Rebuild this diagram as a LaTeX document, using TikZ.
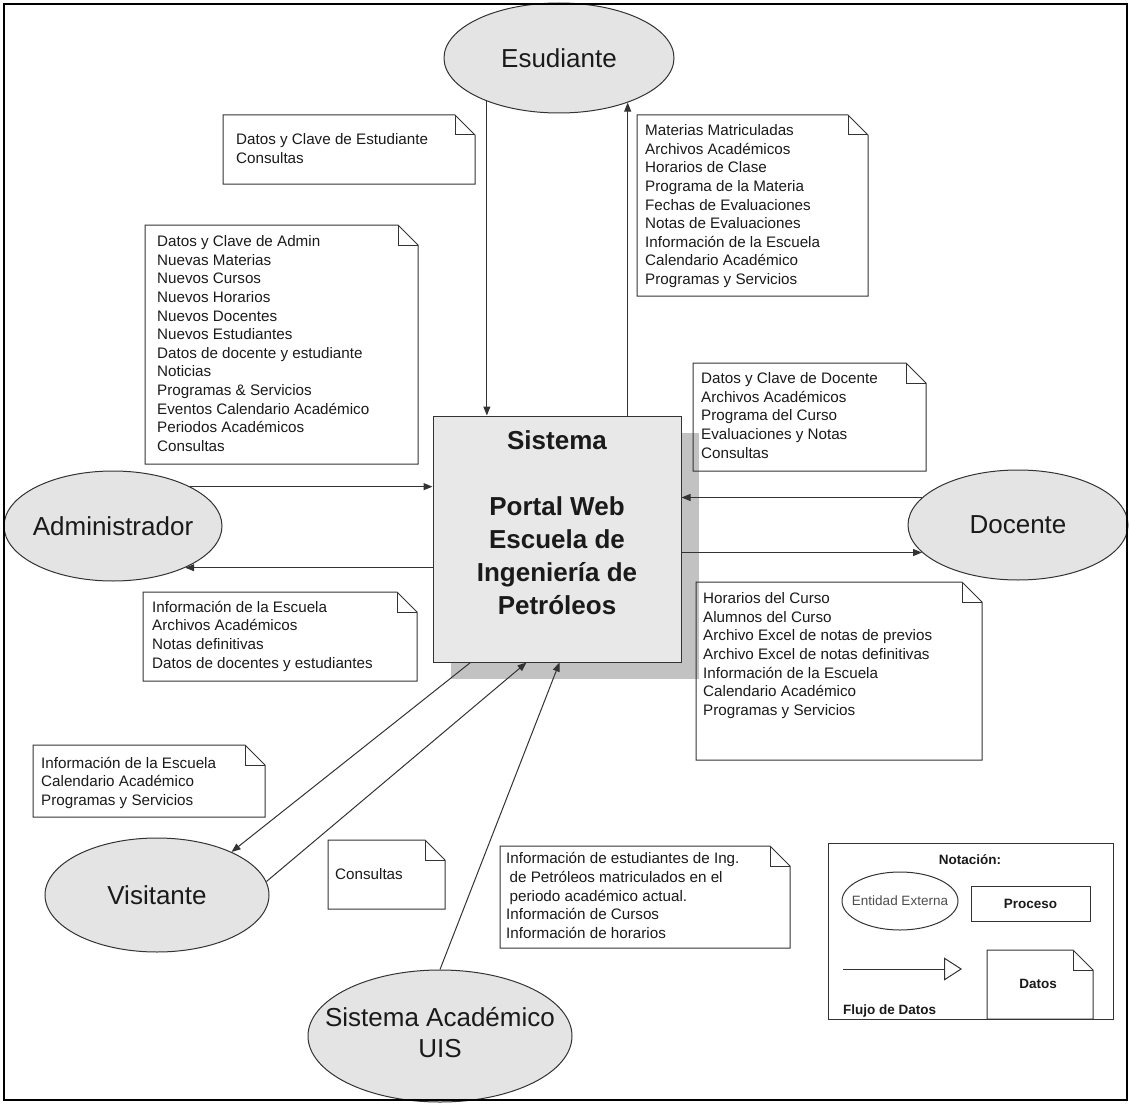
\documentclass[tikz,border=0pt]{standalone}
\usepackage{fontspec}
\setmainfont{Liberation Sans}
\usetikzlibrary{shapes.geometric,arrows.meta,calc,shadows}

\definecolor{ink}{HTML}{1A1A1A}
\definecolor{edge}{HTML}{333333}
\definecolor{entfill}{HTML}{E4E4E4}
\definecolor{boxfill}{HTML}{E8E8E8}
\definecolor{shade}{HTML}{C2C2C2}

% outline of a data note: rectangle with a folded top-right corner
\newcommand\foldnote[2][20]{%
  \draw[noteline] (#2.north west) -- ([xshift=-#1pt]#2.north east)
    -- ([yshift=-#1pt]#2.north east) -- (#2.south east) -- (#2.south west) -- cycle;
  \draw[noteline] ([xshift=-#1pt]#2.north east) -- ([xshift=-#1pt,yshift=-#1pt]#2.north east)
    -- ([yshift=-#1pt]#2.north east);}

\begin{document}
\begin{tikzpicture}[x=1pt,y=-1pt,
  entity/.style={ellipse,draw=edge,fill=entfill,line width=1pt,inner sep=0pt,
    text=ink,font=\fontsize{26}{31}\selectfont},
  notebox/.style={anchor=north west,inner sep=0pt,outer sep=0pt,draw=none},
  noteline/.style={draw=edge,line width=1pt},
  notetext/.style={anchor=north west,inner sep=0pt,align=left,text=ink,
    font=\fontsize{15.2}{18.6}\selectfont},
  flow/.style={draw=edge,line width=1pt,-{Triangle[length=9pt,width=7pt]}},
  legendtext/.style={inner sep=0pt,text=ink,font=\bfseries\fontsize{13.5}{16}\selectfont}]

\useasboundingbox (0,0) rectangle (1130,1105);

% ---- central process ----
\node[draw=edge,fill=boxfill,line width=1pt,minimum width=248,minimum height=246,inner sep=0pt,
  drop shadow={shadow xshift=18pt,shadow yshift=-17pt,fill=shade,opacity=1}]
  (sys) at (557,539) {};
\node[anchor=north,align=center,inner sep=0pt,text=ink,font=\bfseries\fontsize{26}{33}\selectfont]
  (sysT) at (557,430.5) {Sistema\\[33pt]Portal Web\\Escuela de\\Ingeniería de\\Petróleos};

% ---- external entities ----
\node[entity,minimum width=230,minimum height=110] (est) at (559,58) {\makebox[0pt]{Esudiante}};
\node[entity,minimum width=218,minimum height=110] (adm) at (113,526) {\makebox[0pt]{Administrador}};
\node[entity,minimum width=220,minimum height=110] (doc) at (1018,525) {\makebox[0pt]{Docente}};
\node[entity,minimum width=224,minimum height=114] (vis) at (157,895) {\makebox[0pt]{Visitante}};
\node[entity,minimum width=264,minimum height=132] (uis) at (440,1036)
  {\makebox[0pt]{\begin{tabular}{@{}c@{}}Sistema Académico\\UIS\end{tabular}}};

% ---- data flows ----
\draw[flow] (est.211.4) -- (est.211.4 |- sys.north);
\draw[flow] (est.327.5 |- sys.north) -- (est.327.5);
\draw[flow] (adm.27) -- (adm.27 -| sys.west);
\draw[flow] (adm.330.5 -| sys.west) -- (adm.330.5);
\draw[flow] (doc.164.3) -- (doc.164.3 -| sys.east);
\draw[flow] (doc.196.5 -| sys.east) -- (doc.196.5);
\draw[flow] ($(sys.south west)+(38,0)$) -- (vis.30.5);
\draw[flow] (vis.7.3) -- ($(sys.south west)+(94,0)$);
\draw[flow] (uis.north) -- ($(sys.south west)+(127,0)$);

% ---- data notes ----
\node[notebox,minimum width=252,minimum height=69] (nEst) at (223,115) {};
\foldnote{nEst}
\node[notetext] (tEst) at (236,133.5) {Datos y Clave de Estudiante\\Consultas};

\node[notebox,minimum width=231,minimum height=181] (nMat) at (637,115) {};
\foldnote{nMat}
\node[notetext] (tMat) at (645,124.5) {Materias Matriculadas\\Archivos Académicos\\Horarios de Clase\\
  Programa de la Materia\\Fechas de Evaluaciones\\Notas de Evaluaciones\\Información de la Escuela\\
  Calendario Académico\\Programas y Servicios};

\node[notebox,minimum width=273,minimum height=239] (nAdm) at (145,225) {};
\foldnote{nAdm}
\node[notetext] (tAdm) at (157,235.5) {Datos y Clave de Admin\\Nuevas Materias\\Nuevos Cursos\\
  Nuevos Horarios\\Nuevos Docentes\\Nuevos Estudiantes\\Datos de docente y estudiante\\Noticias\\
  Programas \& Servicios\\Eventos Calendario Académico\\Periodos Académicos\\Consultas};

\node[notebox,minimum width=233,minimum height=108] (nDocIn) at (693,363) {};
\foldnote{nDocIn}
\node[notetext] (tDocIn) at (701,372.5) {Datos y Clave de Docente\\Archivos Académicos\\
  Programa del Curso\\Evaluaciones y Notas\\Consultas};

\node[notebox,minimum width=274,minimum height=89] (nAdmOut) at (143,592) {};
\foldnote{nAdmOut}
\node[notetext] (tAdmOut) at (152,601) {Información de la Escuela\\Archivos Académicos\\
  Notas definitivas\\Datos de docentes y estudiantes};

\node[notebox,minimum width=286,minimum height=178] (nDocOut) at (696,582) {};
\foldnote{nDocOut}
\node[notetext] (tDocOut) at (703,592.5) {Horarios del Curso\\Alumnos del Curso\\
  Archivo Excel de notas de previos\\Archivo Excel de notas definitivas\\Información de la Escuela\\
  Calendario Académico\\Programas y Servicios};

\node[notebox,minimum width=232,minimum height=72] (nVis) at (33,745) {};
\foldnote{nVis}
\node[notetext] (tVis) at (41,757) {Información de la Escuela\\Calendario Académico\\Programas y Servicios};

\node[notebox,minimum width=117,minimum height=69] (nCons) at (328,840) {};
\foldnote{nCons}
\node[notetext] (tCons) at (335,868.5) {Consultas};

\node[notebox,minimum width=290,minimum height=102] (nUis) at (500,846) {};
\foldnote{nUis}
\node[notetext] (tUis) at (506,852.5) {Información de estudiantes de Ing.\\
  \hspace*{3.5pt}de Petróleos matriculados en el\\\hspace*{3.5pt}periodo académico actual.\\
  Información de Cursos\\Información de horarios};

% ---- notation legend ----
\node[draw=edge,line width=1pt,anchor=north west,inner sep=0pt,minimum width=285,minimum height=176]
  (legend) at (828,843) {};
\node[legendtext] (legT) at (970,860) {Notación:};
\node[ellipse,draw=edge,line width=1pt,inner sep=0pt,minimum width=116,minimum height=58,
  text=black!70,font=\fontsize{13.5}{16}\selectfont] (legE) at (900,901) {\makebox[0pt]{Entidad Externa}};
\node[draw=edge,line width=1pt,inner sep=0pt,minimum width=119,minimum height=35,
  legendtext] (legP) at (1030.5,903.5) {Proceso};
\coordinate (lgA) at (843,969);
\coordinate (lgB) at (962,969);
\draw[draw=edge,line width=1pt,-{Triangle[open,length=18pt,width=23pt]}] (lgA) -- (lgB);
\node[notebox,minimum width=106,minimum height=69] (legD) at (987,950) {};
\foldnote{legD}
\node[legendtext] (legDT) at (1038,984) {Datos};
\node[legendtext,anchor=west] (legF) at (843,1011) {Flujo de Datos};

% ---- outer frame ----
\draw[line width=2pt] (4,4) rectangle (1127,1100);
\end{tikzpicture}
\end{document}
